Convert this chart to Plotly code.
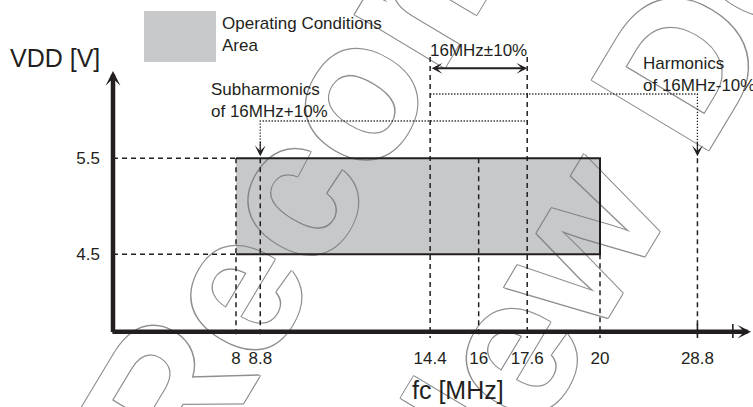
import plotly.graph_objects as go

# ---------------- data ----------------
OP_FREQ = [8, 20]            # MHz, operating-condition frequency range
OP_VDD = [4.5, 5.5]          # V, operating-condition supply range
F_NOMINAL = 16               # MHz
F_TOL = [14.4, 17.6]         # 16 MHz ±10 %
SUB_F = 8.8                  # subharmonic of 16 MHz+10 %
HARM_F = 28.8                # harmonic of 16 MHz-10 %
EXTRA_TICK_F = 32            # unlabeled tick after the axis break
X_TICKS = [8, 8.8, 14.4, 16, 17.6, 20, 28.8]
X_TICK_TEXT = ["8", "8.8", "14.4", "16", "17.6", "20", "28.8"]
Y_TICKS = [4.5, 5.5]
Y_TICK_TEXT = ["4.5", "5.5"]
WATERMARK = ["Not Recommended", "for New Design"]

# ---------------- layout helpers ----------------
W, H = 753, 407
XR = [0.22, 25.044]
YR = [2.909, 7.149]
BREAK_AT, BREAK_SCALE = 20, 0.365   # compressed axis after 20 MHz


def fx(f):
    return f if f <= BREAK_AT else BREAK_AT + (f - BREAK_AT) * BREAK_SCALE


def px_x(p):
    return XR[0] + p / W * (XR[1] - XR[0])


def px_y(p):
    return YR[1] - p / H * (YR[1] - YR[0])


INK = "#231f20"
GREY = "#c8c9cb"
AX_X = px_x(113)        # y-axis position
AX_Y = px_y(331.7)      # x-axis position
Y_LOW = px_y(338)       # where dashed guides end below the axis
Y_SUBLINE = px_y(121)   # dotted line to subharmonic
Y_HARMLINE = px_y(94)   # dotted line to harmonic
Y_TOLTOP = px_y(57)     # top of 14.4 / 17.6 guides
Y_TOLARROW = px_y(68.3)

fig = go.Figure()

# ---------------- watermark (drawn first, behind everything) ----------------
wm_centres = [(396, 16), (612, 178)]
wm_font = dict(family="Liberation Sans", size=198, weight="bold", color="white",
               shadow="-1px -1px 0 #8f8f8f, 1px -1px 0 #8f8f8f, -1px 1px 0 #8f8f8f, 1px 1px 0 #8f8f8f")
for txt, (cx, cy) in zip(WATERMARK, wm_centres):
    fig.add_trace(go.Bar(
        x=[px_x(cx)], y=[0.1], base=[px_y(cy) - 0.05], width=[0.05],
        marker=dict(color="rgba(0,0,0,0)", line=dict(width=0)),
        text=[txt], textposition="inside", insidetextanchor="middle",
        textangle=-59, constraintext="none", cliponaxis=False,
        textfont=wm_font, insidetextfont=wm_font,
        hoverinfo="skip", showlegend=False))

# ---------------- operating area ----------------
fig.add_trace(go.Scatter(
    x=[OP_FREQ[0], OP_FREQ[1], OP_FREQ[1], OP_FREQ[0], OP_FREQ[0]],
    y=[OP_VDD[0], OP_VDD[0], OP_VDD[1], OP_VDD[1], OP_VDD[0]],
    fill="toself", fillcolor="rgba(115,118,122,0.4)", mode="none",
    hoverinfo="skip", showlegend=False))
fig.add_trace(go.Scatter(
    x=[OP_FREQ[0], OP_FREQ[1], OP_FREQ[1], OP_FREQ[0]],
    y=[OP_VDD[1], OP_VDD[1], OP_VDD[0], OP_VDD[0]],
    mode="lines", line=dict(color=INK, width=2),
    hoverinfo="skip", showlegend=False))

# legend swatch
fig.add_shape(type="rect", xref="paper", yref="paper",
              x0=144 / W, x1=216 / W, y0=1 - 62 / H, y1=1 - 11 / H,
              fillcolor=GREY, line=dict(width=0), layer="above")

# ---------------- dashed guides ----------------
dx, dy = [], []


def seg(xs, ys, X, Y):
    X += list(xs) + [None]
    Y += list(ys) + [None]


for v in OP_VDD:
    seg([AX_X, OP_FREQ[0]], [v, v], dx, dy)
seg([OP_FREQ[0], OP_FREQ[0]], [OP_VDD[1], Y_LOW], dx, dy)
seg([fx(SUB_F), fx(SUB_F)], [OP_VDD[1], Y_LOW], dx, dy)
for f in F_TOL:
    seg([f, f], [Y_TOLTOP, Y_LOW], dx, dy)
seg([F_NOMINAL, F_NOMINAL], [OP_VDD[1], Y_LOW], dx, dy)
seg([OP_FREQ[1], OP_FREQ[1]], [OP_VDD[0], Y_LOW], dx, dy)
seg([fx(HARM_F), fx(HARM_F)], [OP_VDD[1], Y_LOW], dx, dy)
fig.add_trace(go.Scatter(x=dx, y=dy, mode="lines",
                         line=dict(color=INK, width=1.5, dash="5px,4px"),
                         hoverinfo="skip", showlegend=False))

# ---------------- dotted guides ----------------
ox, oy = [], []
seg([fx(SUB_F), fx(SUB_F), F_TOL[1]], [OP_VDD[1] + 0.1, Y_SUBLINE, Y_SUBLINE], ox, oy)
seg([F_TOL[0], fx(HARM_F), fx(HARM_F)], [Y_HARMLINE, Y_HARMLINE, OP_VDD[1] + 0.1], ox, oy)
fig.add_trace(go.Scatter(x=ox, y=oy, mode="lines",
                         line=dict(color=INK, width=1.3, dash="1.3px,1.7px"),
                         hoverinfo="skip", showlegend=False))

# ---------------- axis ticks on the x-axis line ----------------
tx, ty = [], []
for f in [HARM_F, EXTRA_TICK_F]:
    seg([fx(f), fx(f)], [px_y(324), Y_LOW], tx, ty)
fig.add_trace(go.Scatter(x=tx, y=ty, mode="lines",
                         line=dict(color=INK, width=1.6),
                         hoverinfo="skip", showlegend=False))

# ---------------- arrows ----------------
ann = []
# axes
ann.append(dict(x=AX_X, y=px_y(71), ax=AX_X, ay=AX_Y - 0.02, xref="x", yref="y",
                axref="x", ayref="y", showarrow=True, arrowhead=3, arrowwidth=4.5,
                arrowsize=0.55, arrowcolor=INK, text=""))
ann.append(dict(x=px_x(751), y=AX_Y, ax=AX_X - 0.07, ay=AX_Y, xref="x", yref="y",
                axref="x", ayref="y", showarrow=True, arrowhead=3, arrowwidth=4.5,
                arrowsize=0.5, arrowcolor=INK, text=""))
# 16 MHz ±10 % span
ann.append(dict(x=F_TOL[1], y=Y_TOLARROW, ax=F_TOL[0], ay=Y_TOLARROW, xref="x", yref="y",
                axref="x", ayref="y", showarrow=True, arrowhead=3, startarrowhead=3,
                arrowside="end+start", arrowwidth=2, arrowsize=0.9, startarrowsize=0.9,
                arrowcolor=INK, text=""))
# down arrows to the operating area level
for f in [SUB_F, HARM_F]:
    ann.append(dict(x=fx(f), y=OP_VDD[1] + 0.02, ax=0, ay=-16, xref="x", yref="y",
                    showarrow=True, arrowhead=3, arrowwidth=1.2, arrowsize=1.5,
                    arrowcolor=INK, text=""))

# ---------------- text ----------------
def label(text, px, py, size=17, xanchor="left"):
    ann.append(dict(text=text, x=px / W, y=1 - py / H, xref="paper", yref="paper",
                    xanchor=xanchor, yanchor="middle", align="left", showarrow=False,
                    font=dict(family="Liberation Sans", size=size, color=INK)))


label("Operating Conditions<br>Area", 220, 34)
label("Subharmonics<br>of 16MHz+10%", 209, 100)
label("Harmonics<br>of 16MHz-10%", 641, 74)
label("16MHz±10%", 478, 50, xanchor="center")
label("VDD [V]", 8, 58, size=25)
label("fc [MHz]", 458, 390, size=25, xanchor="center")

fig.update_layout(
    width=W, height=H, margin=dict(l=0, r=0, t=0, b=0, pad=0),
    paper_bgcolor="white", plot_bgcolor="white",
    showlegend=False, annotations=ann, barmode="overlay",
    font=dict(family="Liberation Sans", color=INK),
    xaxis=dict(range=XR, tickvals=[fx(f) for f in X_TICKS], ticktext=X_TICK_TEXT,
               anchor="free", position=1 - 331.7 / H, showline=False, showgrid=False,
               zeroline=False, ticks="", ticklabelstandoff=14,
               tickfont=dict(size=17, color=INK, family="Liberation Sans")),
    yaxis=dict(range=YR, tickvals=Y_TICKS, ticktext=Y_TICK_TEXT,
               anchor="free", position=113 / W, showline=False, showgrid=False,
               zeroline=False, ticks="", ticklabelstandoff=13,
               tickfont=dict(size=17, color=INK, family="Liberation Sans")),
)

fig.write_html("out.html", config={"displayModeBar": False},
               post_script="document.body.style.margin='0';")
